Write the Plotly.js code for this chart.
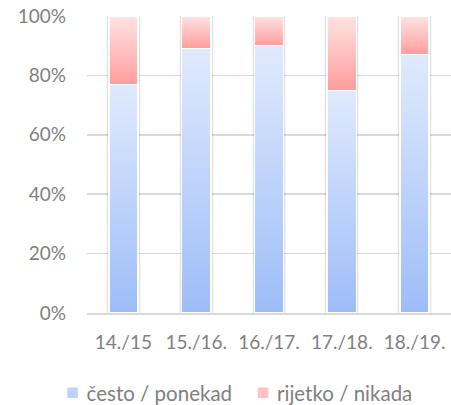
<!DOCTYPE html>
<html>
<head>
<meta charset="utf-8">
<script src="https://cdn.plot.ly/plotly-3.0.1.min.js"></script>
<style>html,body{margin:0;padding:0;background:#fff;}#chart{width:451px;height:405px;}</style>
</head>
<body>
<div id="chart"></div>
<script>
const categories = ["14./15", "15./16.", "16./17.", "17./18.", "18./19."];
const cestoPonekad = [77, 89, 90, 75, 87];
const rijetkoNikada = [23, 11, 10, 25, 13];
const seriesNames = ["često / ponekad", "rijetko / nikada"];
const yTickVals = [0, 20, 40, 60, 80, 100];
const yTickText = ["0%", "20%", "40%", "60%", "80%", "100%"];

const traces = [
  {type: "bar", x: categories, y: cestoPonekad, name: seriesNames[0],
   marker: {color: "#bcd1fb", line: {color: "#ffffff", width: 1.5}}, hoverinfo: "none"},
  {type: "bar", x: categories, y: rijetkoNikada, name: seriesNames[1],
   marker: {color: "#ffc2c2", line: {color: "#ffffff", width: 1.5}}, hoverinfo: "none"}
];

const layout = {
  width: 451, height: 405,
  margin: {l: 87, r: 0, t: 16, b: 92, autoexpand: false},
  barmode: "stack",
  bargap: 0.6,
  paper_bgcolor: "#ffffff", plot_bgcolor: "#ffffff",
  font: {family: "Lato, 'Open Sans', sans-serif", size: 19, color: "#7f7f7f"},
  showlegend: true,
  legend: {orientation: "h", xref: "paper", yref: "paper",
           x: -0.111, xanchor: "left", y: -0.269, yanchor: "middle",
           font: {size: 20.5, color: "#7f7f7f"}, traceorder: "normal", itemwidth: 30},
  xaxis: {type: "category", showgrid: true, gridcolor: "#d9d9d9", gridwidth: 1.5,
          showline: true, linecolor: "#d9d9d9", linewidth: 1.5, ticks: "",
          tickfont: {size: 19, color: "#7f7f7f"}, ticklabelstandoff: 12},
  yaxis: {range: [0, 100], tickvals: yTickVals, ticktext: yTickText, showgrid: true,
          gridcolor: "#d9d9d9", gridwidth: 1.5, zeroline: false, showline: false,
          ticks: "", tickfont: {size: 19, color: "#7f7f7f"}, ticklabelstandoff: 20}
};

Plotly.newPlot("chart", traces, layout, {displayModeBar: false, staticPlot: true}).then(function(gd){
  const svg = gd.querySelector(".main-svg");
  const ns = "http://www.w3.org/2000/svg";
  let defs = svg.querySelector("defs");
  function addGrad(id, top, bottom){
    const g = document.createElementNS(ns, "linearGradient");
    g.setAttribute("id", id); g.setAttribute("x1", "0"); g.setAttribute("y1", "0");
    g.setAttribute("x2", "0"); g.setAttribute("y2", "1");
    [[0, top], [1, bottom]].forEach(function(s){
      const st = document.createElementNS(ns, "stop");
      st.setAttribute("offset", s[0]); st.setAttribute("stop-color", s[1]);
      g.appendChild(st);
    });
    defs.appendChild(g);
  }
  addGrad("gradBlue", "#e0eafd", "#9dbdf8");
  addGrad("gradRed", "#ffe3e3", "#ff9d9d");
  const bars = gd.querySelectorAll(".barlayer .trace");
  const grads = ["url(#gradBlue)", "url(#gradRed)"];
  bars.forEach(function(t, i){
    t.querySelectorAll(".point path").forEach(function(p){ p.style.fill = grads[i]; });
  });
  const bl = gd.querySelector(".barlayer");
  if (bl) bl.style.filter = "drop-shadow(0px 0px 1.2px rgba(0,0,0,0.35))";
  gd.querySelectorAll(".legend .legendsymbols").forEach(function(s){
    s.setAttribute("transform", "translate(6,0)");
  });
});
</script>
</body>
</html>
